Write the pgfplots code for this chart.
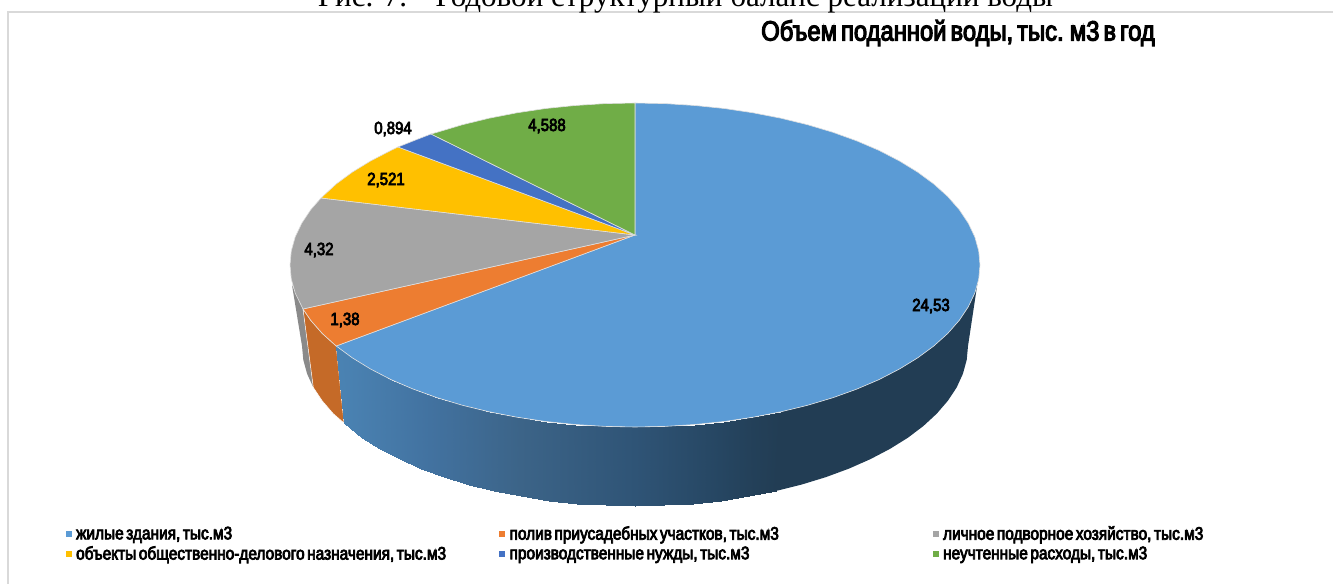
\documentclass[border=0pt]{standalone}
\usepackage{pgfplots}
\pgfplotsset{compat=1.18}
\usepackage{fontspec}
\setmainfont{Liberation Serif}
\newfontfamily\imp[FakeStretch=0.85,FakeBold=4,WordSpace=0.6]{Liberation Sans}
\newfontfamily\capt{Liberation Serif}
\definecolor{cBlue}{HTML}{5B9BD5}
\definecolor{cOrange}{HTML}{ED7D31}
\definecolor{cOrangeSide}{HTML}{C56A28}
\definecolor{cGray}{HTML}{A5A5A5}
\definecolor{cYellow}{HTML}{FFC000}
\definecolor{cDark}{HTML}{4472C4}
\definecolor{cGreen}{HTML}{70AD47}
\definecolor{sDark}{HTML}{223D54}
\begin{document}
\begin{tikzpicture}
\useasboundingbox (0,0) rectangle (999.75pt,438pt);
\clip (0,0) rectangle (999.75pt,438pt);
\begin{axis}[
  at={(0,0)}, anchor=south west, scale only axis,
  width=999.75pt, height=438pt,
  xmin=0, xmax=1333, ymin=0, ymax=584, y dir=reverse,
  hide axis, clip=false,
  legend columns=3,
  legend cell align=left,
  legend image code/.code={\fill[#1,draw=none] (0pt,-2.2pt) rectangle (4.4pt,2.2pt);},
  legend style={at={(axis cs:66,522)}, anchor=north west, draw=none, fill=none,
     inner sep=0pt, outer sep=0pt, row sep=-3pt,
     nodes={text width=314.3pt, align=flush left, inner sep=3.2pt, font=\imp\fontsize{13.6}{14}\selectfont}},
  colormap={side}{rgb255(345)=(74,130,178) rgb255(430)=(66,114,160) rgb255(520)=(60,100,136) rgb255(635)=(47,84,118) rgb255(720)=(38,70,98) rgb255(770)=(34,61,84)},
]
% --- sides
\addplot[forget plot, fill=black!46, draw=none] coordinates {
 (292,285) (302,346) (303.3,359.9) (307.1,373.8) (313.3,387.4) (303,309)} -- cycle;
\addplot[forget plot, fill=cOrangeSide, draw=white, line width=0.35pt] coordinates {
 (336.2,346) (322.3,333.5) (310.8,320.4) (303,309) (313.3,387.4) (322.1,400.7) (333.2,413.6) (344,423)} -- cycle;
\addplot[forget plot, fill=sDark, draw=none] coordinates {
 (977.5,283) (974.8,293.1) (968.2,306.9) (959.2,320.4) (947.7,333.5) (933.8,346) (917.6,357.9) (899.3,369.1)
 (879,379.6) (856.8,389.1) (832.9,397.7) (807.5,405.3) (780.8,411.8) (775.7,491) (801.5,484.6) (826,477.1) (849,468.6) (870.5,459.1) (890.1,448.8)
 (907.8,437.8) (923.4,426) (936.8,413.6) (947.9,400.7) (956.7,387.4) (962.9,373.8) (966.7,359.9) (968,346)} -- cycle;
% gradient of the blue side: quads with colour by x
\addplot[forget plot, patch, patch type=rectangle, shader=interp, point meta=x, point meta min=345, point meta max=770] coordinates {
 (336.2,346) (352.4,357.9) (362.2,437.8) (344,423)
 (352.4,357.9) (370.7,369.1) (379.9,448.8) (362.2,437.8)
 (370.7,369.1) (391,379.6) (399.5,459.1) (379.9,448.8)
 (391,379.6) (413.2,389.1) (421,468.6) (399.5,459.1)
 (413.2,389.1) (437.1,397.7) (444,477.1) (421,468.6)
 (437.1,397.7) (462.5,405.3) (468.5,484.6) (444,477.1)
 (462.5,405.3) (489.2,411.8) (494.3,491) (468.5,484.6)
 (489.2,411.8) (517,417.2) (521.1,496.4) (494.3,491)
 (517,417.2) (545.7,421.5) (548.8,500.5) (521.1,496.4)
 (545.7,421.5) (575.1,424.5) (577.2,503.6) (548.8,500.5)
 (575.1,424.5) (604.9,426.4) (606,505.4) (577.2,503.6)
 (604.9,426.4) (635,427) (635,506) (606,505.4)
 (635,427) (665.1,426.4) (664,505.4) (635,506)
 (665.1,426.4) (694.9,424.5) (692.8,503.6) (664,505.4)
 (694.9,424.5) (724.3,421.5) (721.2,500.5) (692.8,503.6)
 (724.3,421.5) (753,417.2) (748.9,496.4) (721.2,500.5)
 (753,417.2) (780.8,411.8) (775.7,491) (748.9,496.4)
};
% --- top slices
\addplot[fill=cBlue, draw=white!88!black, line width=0.45pt] coordinates {
 (635,235) (635,103) (665.1,103.6) (694.9,105.5) (724.3,108.5) (753,112.8) (780.8,118.2) (807.5,124.7)
 (832.9,132.3) (856.8,140.9) (879,150.4) (899.3,160.9) (917.6,172.1) (933.8,184) (947.7,196.5) (959.2,209.6)
 (968.2,223.1) (974.8,236.9) (978.7,250.9) (980,265) (978.7,279.1) (974.8,293.1) (968.2,306.9) (959.2,320.4)
 (947.7,333.5) (933.8,346) (917.6,357.9) (899.3,369.1) (879,379.6) (856.8,389.1) (832.9,397.7) (807.5,405.3)
 (780.8,411.8) (753,417.2) (724.3,421.5) (694.9,424.5) (665.1,426.4) (635,427) (604.9,426.4) (575.1,424.5)
 (545.7,421.5) (517,417.2) (489.2,411.8) (462.5,405.3) (437.1,397.7) (413.2,389.1) (391,379.6) (370.7,369.1)
 (352.4,357.9) (336.2,346)} -- cycle;
\addlegendentry{жилые здания, тыс.м3}
\addplot[fill=cOrange, draw=white!88!black, line width=0.45pt] coordinates {
 (635,235) (336.2,346) (322.3,333.5) (310.8,320.4) (303,309)} -- cycle;
\addlegendentry{полив приусадебных участков, тыс.м3}
\addplot[fill=cGray, draw=white!88!black, line width=0.45pt] coordinates {
 (635,235) (303,309) (295.2,293.1) (291.3,279.1) (290,265) (291.3,250.9) (295.2,236.9) (301.8,223.1)
 (310.8,209.6) (321,198)} -- cycle;
\addlegendentry{личное подворное хозяйство, тыс.м3}
\addplot[fill=cYellow, draw=white!88!black, line width=0.45pt] coordinates {
 (635,235) (321,198) (336.2,184) (352.4,172.1) (370.7,160.9) (391,150.4) (398,147)} -- cycle;
\addlegendentry{объекты общественно-делового назначения, тыс.м3}
\addplot[fill=cDark, draw=white!88!black, line width=0.45pt] coordinates {
 (635,235) (398,147) (413.2,140.9) (431,134)} -- cycle;
\addlegendentry{производственные нужды, тыс.м3}
\addplot[fill=cGreen, draw=white!88!black, line width=0.45pt] coordinates {
 (635,235) (431,134) (437.1,132.3) (462.5,124.7) (489.2,118.2) (517,112.8) (545.7,108.5) (575.1,105.5)
 (604.9,103.6) (635,103)} -- cycle;
\addlegendentry{неучтенные расходы, тыс.м3}
% --- frame and texts
\draw[black!15, line width=1.5pt] (axis cs:8,590) -- (axis cs:8,12) -- (axis cs:1340,12);
\node[font=\capt\fontsize{23.3}{25}\selectfont, anchor=base] at (axis cs:685.5,7) {Рис. 7. - Годовой структурный баланс реализации воды};
\node[font=\imp\fontsize{21}{22}\selectfont] at (axis cs:958,33) {Объем поданной воды, тыс. м3 в год};
\tikzset{val/.style={font=\imp\fontsize{13.2}{15}\selectfont, inner sep=0pt}}
\node[val] at (axis cs:931,306) {24,53};
\node[val] at (axis cs:345,320) {1,38};
\node[val] at (axis cs:319,250) {4,32};
\node[val] at (axis cs:386,180) {2,521};
\node[val] at (axis cs:393,129) {0,894};
\node[val] at (axis cs:547,126) {4,588};
\end{axis}
\end{tikzpicture}
\end{document}
